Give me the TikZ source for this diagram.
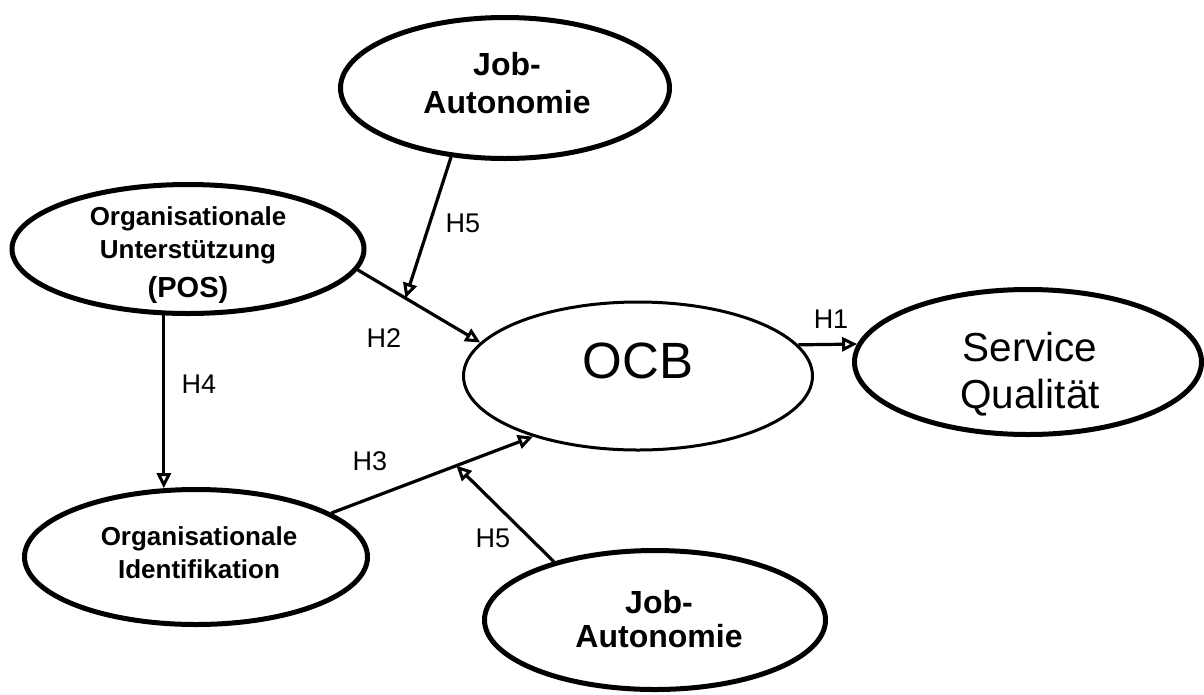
\documentclass[tikz,border=0pt]{standalone}
\usepackage{fontspec}
\setmainfont{Liberation Sans}
\usetikzlibrary{shapes.geometric,arrows.meta}
\begin{document}
\begin{tikzpicture}[x=1pt,y=-1pt,
  ell/.style={draw, ellipse, inner sep=0pt, line width=5pt},
  thinell/.style={draw, ellipse, inner sep=0pt, line width=3pt},
  txt/.style={anchor=base, inner sep=0pt},
  bigb/.style={txt, font=\fontsize{32}{38}\selectfont\bfseries},
  midb/.style={txt, font=\fontsize{26}{31}\selectfont\bfseries},
  lbl/.style={txt, font=\fontsize{27}{32}\selectfont},
  arr/.style={line width=3.2pt, -{Triangle[open,length=15pt,width=14pt,line width=3pt]}}]
\useasboundingbox (0,0) rectangle (1204,694);

% ellipses
\node[ell, minimum width=329pt, minimum height=141pt] (jobtop) at (505,88) {};
\node[ell, minimum width=352pt, minimum height=129pt] (pos) at (188,249) {};
\node[thinell, minimum width=349pt, minimum height=148pt] (ocb) at (638,376) {};
\node[ell, minimum width=347pt, minimum height=145pt] (svc) at (1028,362) {};
\node[ell, minimum width=343pt, minimum height=135pt] (ident) at (196,557) {};
\node[ell, minimum width=341pt, minimum height=139pt] (jobbot) at (655,620) {};

% texts
\node[bigb] (jt1) at (507,75) {Job-};
\node[bigb] (jt2) at (507,113) {Autonomie};
\node[midb] (pt1) at (188,225) {Organisationale};
\node[midb] (pt2) at (188,258) {Unterstützung};
\node[txt, font=\fontsize{29}{34}\selectfont\bfseries] (pt3) at (188,297) {(POS)};
\node[txt, font=\fontsize{51}{60}\selectfont] (ot) at (638,378) {OCB};
\node[txt, font=\fontsize{40.5}{48}\selectfont] (st1) at (1030,361) {Service};
\node[txt, font=\fontsize{40.5}{48}\selectfont] (st2) at (1030,408) {Qualität};
\node[midb] (it1) at (199,545) {Organisationale};
\node[midb] (it2) at (199,578) {Identifikation};
\node[bigb] (jb1) at (659,613) {Job-};
\node[bigb] (jb2) at (659,647) {Autonomie};

% connectors
\draw[arr] (pos.-7) -- coordinate[pos=0.39] (h2m) (ocb.168.6);
\draw[arr] (ident.18.9) -- coordinate[pos=0.62] (h3m) (ocb.210.6);
\draw[arr] (pos.250) -- (pos.250 |- ident.115);
\draw[arr] (ocb.11.4) -- (svc.174.7);
\draw[arr] (jobtop.-128) -- (h2m);
\draw[arr] (jobbot.150) -- (h3m);

% labels
\node[lbl] (lh5a) at (463,232) {H5};
\node[lbl] (lh2) at (384,347) {H2};
\node[lbl] (lh4) at (199,393) {H4};
\node[lbl] (lh3) at (370,470) {H3};
\node[lbl] (lh5b) at (493,547) {H5};
\node[lbl] (lh1) at (831,328) {H1};
\end{tikzpicture}
\end{document}
